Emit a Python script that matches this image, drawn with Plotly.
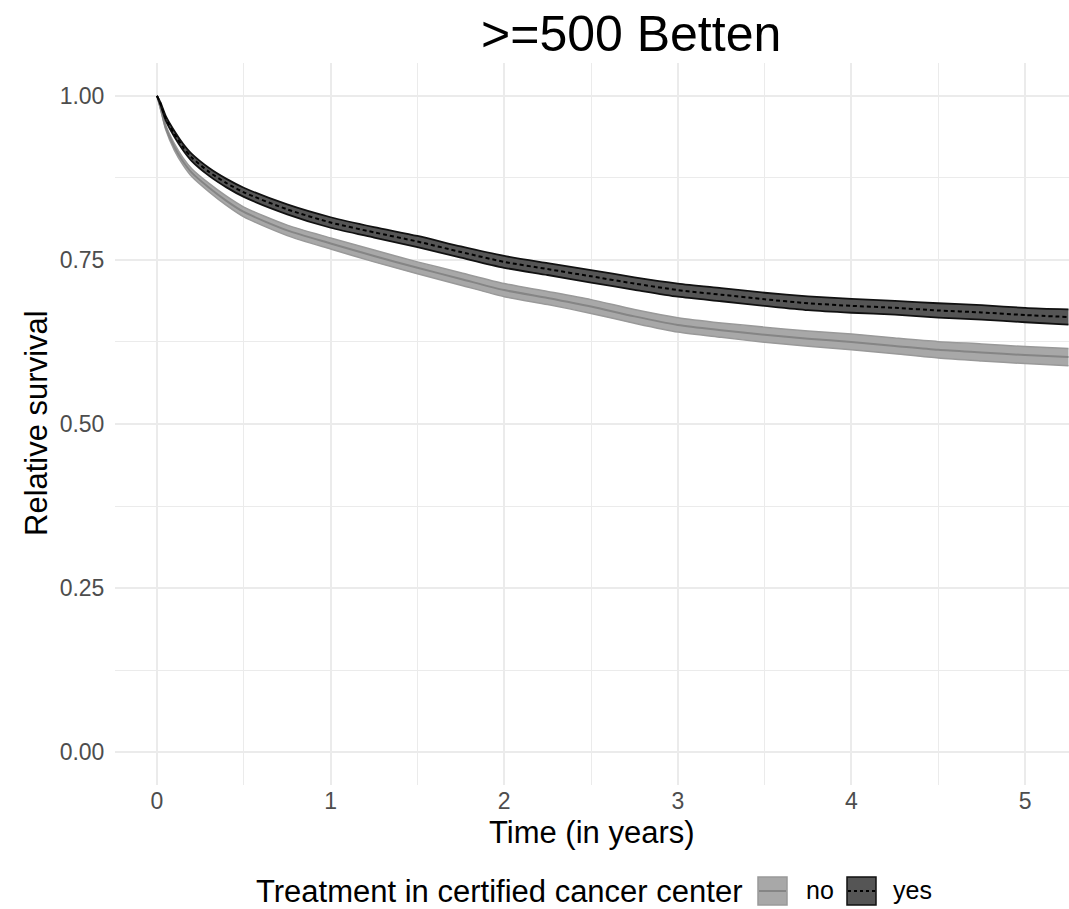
import plotly.graph_objects as go

# ---- data ----
time_years = [0, 0.02, 0.05, 0.1, 0.15, 0.2, 0.3, 0.4, 0.5, 0.75, 1.0, 1.25, 1.5, 1.75,
              2.0, 2.25, 2.5, 2.75, 3.0, 3.25, 3.5, 3.75, 4.0, 4.25, 4.5, 4.75, 5.0, 5.25]
surv_yes = [1.0, 0.988, 0.966, 0.942, 0.922, 0.906, 0.884, 0.867, 0.853, 0.827, 0.807, 0.792,
            0.778, 0.762, 0.747, 0.736, 0.725, 0.714, 0.704, 0.697, 0.690, 0.684, 0.680,
            0.677, 0.673, 0.670, 0.666, 0.663]
surv_no = [1.0, 0.982, 0.952, 0.922, 0.900, 0.883, 0.860, 0.840, 0.823, 0.795, 0.775, 0.756,
           0.738, 0.721, 0.704, 0.692, 0.679, 0.664, 0.651, 0.643, 0.636, 0.630, 0.625,
           0.619, 0.613, 0.609, 0.605, 0.602]
ci_half_yes = [0.0, 0.002, 0.0035, 0.0045, 0.005, 0.0055, 0.006, 0.0065, 0.007, 0.0075, 0.008,
               0.008, 0.0085, 0.0085, 0.009, 0.009, 0.0095, 0.0095, 0.010, 0.010, 0.010,
               0.0105, 0.0105, 0.0105, 0.011, 0.011, 0.011, 0.0115]
ci_half_no = [0.0, 0.002, 0.0035, 0.005, 0.0055, 0.006, 0.0065, 0.007, 0.0075, 0.008, 0.0085,
              0.009, 0.009, 0.0095, 0.010, 0.010, 0.0105, 0.0105, 0.011, 0.011, 0.0115,
              0.0115, 0.012, 0.012, 0.0125, 0.013, 0.013, 0.0132]

x_ticks = [0, 1, 2, 3, 4, 5]
y_ticks = [0.0, 0.25, 0.5, 0.75, 1.0]
y_tick_labels = ["0.00", "0.25", "0.50", "0.75", "1.00"]

title_text = ">=500 Betten"
x_title = "Time (in years)"
y_title = "Relative survival"
legend_title = "Treatment in certified cancer center"
group_labels = ["no", "yes"]

# ---- styles ----
FONT = "Liberation Sans, Arial, sans-serif"
W, H = 1069, 909
L, R, T, B = 115, 0, 63, 124
PW, PH = W - L - R, H - T - B

styles = {
    "no": dict(fill="#A8A8A8", edge="#999999", line="#858585", dash="solid", lw=2, ew=1.5),
    "yes": dict(fill="#555555", edge="#111111", line="#000000", dash="4px,3px", lw=2, ew=1.8),
}

fig = go.Figure()
series = {"no": (surv_no, ci_half_no), "yes": (surv_yes, ci_half_yes)}
for g in group_labels:
    s, hw = series[g]
    st = styles[g]
    lower = [v - h for v, h in zip(s, hw)]
    upper = [v + h for v, h in zip(s, hw)]
    fig.add_trace(go.Scatter(x=time_years, y=lower, mode="lines", showlegend=False,
                             line=dict(color=st["edge"], width=st["ew"], shape="spline", smoothing=0.7),
                             hoverinfo="skip"))
    fig.add_trace(go.Scatter(x=time_years, y=upper, mode="lines", showlegend=False,
                             fill="tonexty", fillcolor=st["fill"],
                             line=dict(color=st["edge"], width=st["ew"], shape="spline", smoothing=0.7),
                             hoverinfo="skip"))
    fig.add_trace(go.Scatter(x=time_years, y=s, mode="lines", name=g, showlegend=False,
                             line=dict(color=st["line"], width=st["lw"], dash=st["dash"],
                                       shape="spline", smoothing=0.7)))

def px_x(px):
    return (px - L) / PW

def px_y(py):
    return (H - B - py) / PH

annotations = [
    dict(text=title_text, x=px_x(631), y=px_y(34), xref="paper", yref="paper",
         xanchor="center", yanchor="middle", showarrow=False,
         font=dict(family=FONT, size=50, color="#000000")),
    dict(text=x_title, x=0.5, y=px_y(832), xref="paper", yref="paper",
         xanchor="center", yanchor="middle", showarrow=False,
         font=dict(family=FONT, size=31, color="#000000")),
    dict(text=y_title, x=px_x(36), y=px_y(423), xref="paper", yref="paper", textangle=-90,
         xanchor="center", yanchor="middle", showarrow=False,
         font=dict(family=FONT, size=31, color="#000000")),
    dict(text=legend_title, x=px_x(254), y=px_y(891), xref="paper", yref="paper",
         xanchor="left", yanchor="middle", showarrow=False,
         font=dict(family=FONT, size=31, color="#000000")),
]

shapes = []
key_pos = {"no": (758, 787, 804), "yes": (847, 876, 891)}
for g in group_labels:
    x0, x1, tx = key_pos[g]
    st = styles[g]
    shapes.append(dict(type="rect", xref="paper", yref="paper",
                       x0=px_x(x0), x1=px_x(x1), y0=px_y(905), y1=px_y(877),
                       fillcolor=st["fill"], line=dict(color=st["edge"], width=1.5)))
    shapes.append(dict(type="line", xref="paper", yref="paper",
                       x0=px_x(x0 + 1), x1=px_x(x1 - 1), y0=px_y(891), y1=px_y(891),
                       line=dict(color=st["line"], width=st["lw"], dash="dot" if g == "yes" else "solid")))
    annotations.append(dict(text=g, x=px_x(tx), y=px_y(890), xref="paper", yref="paper",
                            xanchor="left", yanchor="middle", showarrow=False,
                            font=dict(family=FONT, size=25, color="#000000")))

grid = "#EBEBEB"
fig.update_layout(
    width=W, height=H,
    margin=dict(l=L, r=R, t=T, b=B, pad=0),
    paper_bgcolor="white", plot_bgcolor="white",
    showlegend=False,
    annotations=annotations, shapes=shapes,
    xaxis=dict(range=[-0.242, 5.253], tickvals=x_ticks, ticktext=[str(v) for v in x_ticks],
               showgrid=True, gridcolor=grid, gridwidth=2, zeroline=False, showline=False,
               ticks="",
               tickfont=dict(family=FONT, size=23, color="#4D4D4D"),
               minor=dict(dtick=0.5, showgrid=True, gridcolor=grid, gridwidth=1.3),
               fixedrange=True),
    yaxis=dict(range=[-0.05, 1.05], tickvals=y_ticks, ticktext=y_tick_labels,
               showgrid=True, gridcolor=grid, gridwidth=2, zeroline=False, showline=False,
               ticks="outside", ticklen=5, tickcolor="rgba(0,0,0,0)",
               tickfont=dict(family=FONT, size=23, color="#4D4D4D"),
               minor=dict(dtick=0.125, showgrid=True, gridcolor=grid, gridwidth=1.3),
               fixedrange=True),
)

fig.write_html("out.html")
